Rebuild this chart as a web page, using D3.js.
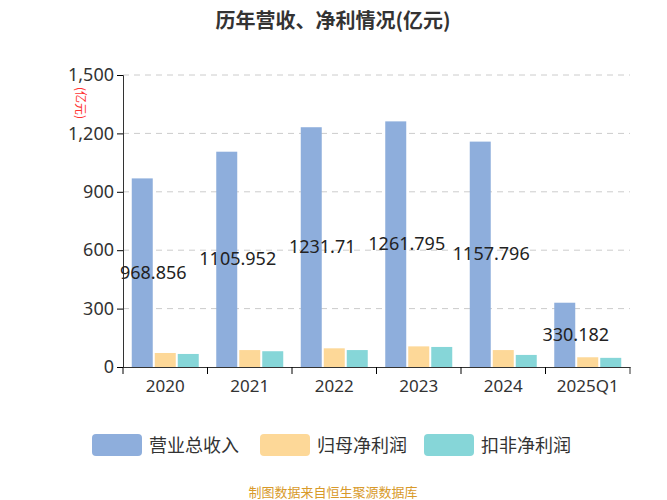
<!DOCTYPE html>
<html><head><meta charset="utf-8">
<script src="https://cdn.jsdelivr.net/npm/d3@7"></script>
<style>body{margin:0;background:#fff;font-family:"Noto Sans CJK SC","Noto Sans",sans-serif}</style>
</head><body><svg id="c" width="667" height="500"></svg>
<script>
const categories = ["2020", "2021", "2022", "2023", "2024", "2025Q1"];
const revenue = [968.856, 1105.952, 1231.71, 1261.795, 1157.796, 330.182];
const netProfit = [72, 87, 96, 106, 87, 50];
const deductedProfit = [67, 81, 87, 103, 62, 47];
const seriesNames = ["营业总收入", "归母净利润", "扣非净利润"];
const colors = ["#8eaedc", "#fdd898", "#86d6d8"];
const yTicks = [0, 300, 600, 900, 1200, 1500];

const svg = d3.select("#c");
const mL = 123, mR = 630, plotTop = 75, plotBottom = 367;
const x = d3.scaleBand().domain(categories).range([mL, mR]);
const y = d3.scaleLinear().domain([0, 1500]).range([plotBottom, plotTop]);
const bw = 21, gap = 2;

svg.append("text").attr("x", 333).attr("y", 28).attr("text-anchor", "middle")
  .attr("font-size", 20).attr("font-weight", "bold").attr("fill", "#333").text("历年营收、净利情况(亿元)");

// grid
svg.append("g").selectAll("line").data(yTicks.slice(1)).enter().append("line")
  .attr("x1", mL).attr("x2", mR).attr("y1", d => y(d)).attr("y2", d => y(d))
  .attr("stroke", "#ccc").attr("stroke-dasharray", "6,5");

const yAxis = svg.append("g").attr("transform", `translate(${mL},0)`)
  .call(d3.axisLeft(y).tickValues(yTicks).tickFormat(d3.format(",")).tickSize(6));
yAxis.select(".domain").attr("stroke", "#333");
yAxis.selectAll("text").attr("font-size", 18).attr("fill", "#333").attr("font-family", "Noto Sans");

const xAxis = svg.append("g").attr("transform", `translate(0,${plotBottom})`)
  .call(d3.axisBottom(x).tickSize(7).tickSizeOuter(0));
xAxis.selectAll(".tick line").attr("transform", `translate(${-x.bandwidth() / 2},0)`);
xAxis.append("line").attr("x1", mR).attr("x2", mR).attr("y1", 0).attr("y2", 7).attr("stroke", "#333");
xAxis.select(".domain").attr("stroke", "#333");
xAxis.selectAll("text").attr("font-size", 17).attr("fill", "#333").attr("dy", "0.9em").attr("font-family", "Noto Sans");

svg.append("text").attr("transform", `translate(76,103) rotate(90)`).attr("text-anchor", "middle")
  .attr("font-size", 12).attr("fill", "#f33").text("(亿元)");

const series = [revenue, netProfit, deductedProfit];
series.forEach((vals, s) => {
  svg.append("g").selectAll("rect").data(vals).enter().append("rect")
    .attr("x", (d, i) => x(categories[i]) + x.bandwidth() / 2 - (bw * 1.5 + gap) + s * (bw + gap))
    .attr("y", d => y(d)).attr("width", bw).attr("height", d => plotBottom - y(d))
    .attr("fill", colors[s]);
});

svg.append("g").selectAll("text").data(revenue).enter().append("text")
  .attr("x", (d, i) => x(categories[i]) + x.bandwidth() / 2 - 12)
  .attr("y", d => (y(d) + plotBottom) / 2 + 6)
  .attr("text-anchor", "middle").attr("font-size", 18).attr("fill", "#222").attr("font-family", "Noto Sans")
  .text(d => d);

const lx = [92, 260, 424];
seriesNames.forEach((n, i) => {
  svg.append("rect").attr("x", lx[i]).attr("y", 434).attr("width", 50).attr("height", 22).attr("rx", 4).attr("fill", colors[i]);
  svg.append("text").attr("x", lx[i] + 57).attr("y", 452).attr("font-size", 18).attr("fill", "#333").text(n);
});

svg.append("text").attr("x", 333).attr("y", 497).attr("text-anchor", "middle")
  .attr("font-size", 13).attr("fill", "#d89a2a").text("制图数据来自恒生聚源数据库");
</script></body></html>
